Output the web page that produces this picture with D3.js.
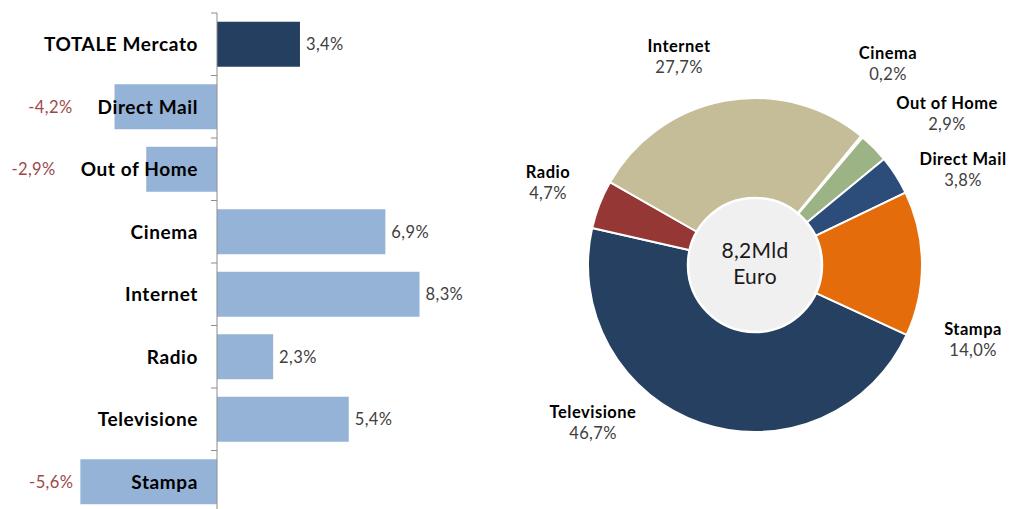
<!DOCTYPE html>
<html>
<head>
<meta charset="utf-8">
<script src="https://cdn.jsdelivr.net/npm/d3@7"></script>
<style>
  html, body { margin: 0; padding: 0; background: #ffffff; }
  svg { display: block; }
  text { font-family: Lato, "Noto Sans", sans-serif; }
</style>
</head>
<body>
<svg id="chart" width="1013" height="509"></svg>
<script>
// ---- Bar chart data (variazione %) ----
const barCategories = ["TOTALE Mercato", "Direct Mail", "Out of Home", "Cinema", "Internet", "Radio", "Televisione", "Stampa"];
const barValues = [3.4, -4.2, -2.9, 6.9, 8.3, 2.3, 5.4, -5.6];
const barLabels = ["3,4%", "-4,2%", "-2,9%", "6,9%", "8,3%", "2,3%", "5,4%", "-5,6%"];

// ---- Donut data (quota %) ----
const pieCategories = ["Televisione", "Radio", "Internet", "Cinema", "Out of Home", "Direct Mail", "Stampa"];
const pieValues = [46.7, 4.7, 27.7, 0.2, 2.9, 3.8, 14.0];
const pieLabels = ["46,7%", "4,7%", "27,7%", "0,2%", "2,9%", "3,8%", "14,0%"];
const pieColors = ["#254061", "#953735", "#c4bd97", "#d7e4bd", "#9bb385", "#2c4d7a", "#e46c0a"];
const centerText = ["8,2Mld", "Euro"];

// label placement (layout only: offset of name baseline from donut centre)
const pieLabelOffsets = [[-162, 153], [-207, -87], [-76, -213], [133, -206], [192, -156], [208, -100], [218, 70]];

const svg = d3.select("#chart");

// ================= BAR CHART =================
const axisX = 217;
const pxPerUnit = 24.4;
const x = d3.scaleLinear().domain([-6, 9]).range([axisX - 6 * pxPerUnit, axisX + 9 * pxPerUnit]);
const y = d3.scaleBand().domain(barCategories).range([13, 513]).paddingInner(0.28).paddingOuter(0.14);

const bars = svg.append("g");
bars.selectAll("rect")
  .data(barValues)
  .join("rect")
  .attr("x", d => x(Math.min(0, d)))
  .attr("y", (d, i) => y(barCategories[i]))
  .attr("width", d => Math.abs(x(d) - x(0)))
  .attr("height", y.bandwidth())
  .attr("fill", (d, i) => i === 0 ? "#243f60" : "#95b3d7");

// axis line and ticks
const axisG = svg.append("g");
axisG.append("line")
  .attr("x1", x(0)).attr("x2", x(0))
  .attr("y1", 13).attr("y2", 509)
  .attr("stroke", "#8c8c8c").attr("stroke-width", 1);
const step = y.step();
axisG.selectAll("line.tick")
  .data(barCategories)
  .join("line")
  .attr("class", "tick")
  .attr("x1", x(0) - 6).attr("x2", x(0))
  .attr("y1", (d, i) => 13 + i * step)
  .attr("y2", (d, i) => 13 + i * step)
  .attr("stroke", "#8c8c8c");

// category labels
const catText = svg.append("g").selectAll("text")
  .data(barCategories)
  .join("text")
  .attr("x", 198)
  .attr("y", d => y(d) + y.bandwidth() / 2)
  .attr("dy", "0.36em")
  .attr("text-anchor", "end")
  .attr("font-size", 19)
  .attr("font-weight", 700)
  .attr("letter-spacing", 0.6)
  .attr("fill", "#000")
  .text(d => d);

const catLeft = [];
catText.each(function () { catLeft.push(198 - this.getComputedTextLength()); });

// value labels
svg.append("g").selectAll("text")
  .data(barValues)
  .join("text")
  .attr("x", (d, i) => d >= 0 ? x(d) + 6 : Math.min(x(d) - 7, catLeft[i] - 25))
  .attr("y", (d, i) => y(barCategories[i]) + y.bandwidth() / 2)
  .attr("dy", "0.36em")
  .attr("text-anchor", d => d >= 0 ? "start" : "end")
  .attr("font-size", 16.5)
  .attr("letter-spacing", 0.4)
  .attr("fill", d => d >= 0 ? "#404040" : "#9b4a4a")
  .text((d, i) => barLabels[i]);

// ================= DONUT =================
const cx = 755, cy = 265;
const outerR = 167, innerR = 67;
const pie = d3.pie().sort(null).value(d => d)
  .startAngle(114.7 * Math.PI / 180)
  .endAngle(114.7 * Math.PI / 180 + 2 * Math.PI);
const arcs = pie(pieValues);
const arc = d3.arc().innerRadius(innerR - 5).outerRadius(outerR);

const pg = svg.append("g").attr("transform", `translate(${cx},${cy})`);
pg.selectAll("path")
  .data(arcs)
  .join("path")
  .attr("d", arc)
  .attr("fill", (d, i) => pieColors[i])
  .attr("stroke", "#ffffff")
  .attr("stroke-width", 2)
  .attr("stroke-linejoin", "round");

pg.append("circle")
  .attr("r", innerR)
  .attr("fill", "#f0f0f0")
  .attr("stroke", "#ffffff")
  .attr("stroke-width", 2.5);

pg.selectAll("text.center")
  .data(centerText)
  .join("text")
  .attr("class", "center")
  .attr("x", 0)
  .attr("y", (d, i) => -7 + i * 26)
  .attr("text-anchor", "middle")
  .attr("font-size", 21)
  .attr("letter-spacing", 0.3)
  .attr("fill", "#1a1a1a")
  .text(d => d);

const lg = pg.append("g");
const labelG = lg.selectAll("g")
  .data(pieCategories)
  .join("g")
  .attr("transform", (d, i) => `translate(${pieLabelOffsets[i][0]},${pieLabelOffsets[i][1]})`);
labelG.append("text")
  .attr("text-anchor", "middle")
  .attr("font-size", 16.5)
  .attr("font-weight", 700)
  .attr("letter-spacing", 0.5)
  .attr("fill", "#000")
  .text(d => d);
labelG.append("text")
  .attr("y", 21)
  .attr("text-anchor", "middle")
  .attr("font-size", 16.5)
  .attr("letter-spacing", 0.4)
  .attr("fill", "#404040")
  .text((d, i) => pieLabels[i]);
</script>
</body>
</html>
